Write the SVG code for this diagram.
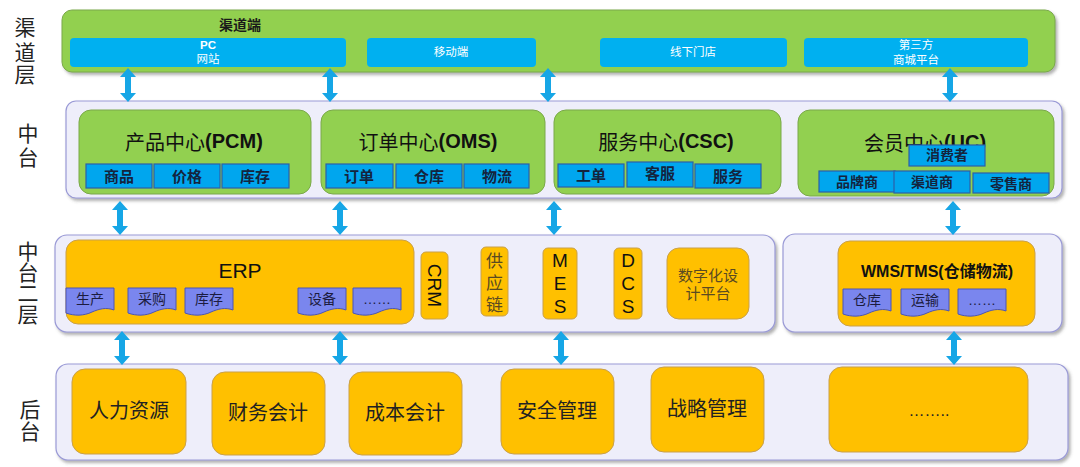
<svg xmlns="http://www.w3.org/2000/svg" xmlns:xlink="http://www.w3.org/1999/xlink" width="1080" height="467" viewBox="0 0 1080 467">
<defs>
  <filter id="sh" x="-5%" y="-10%" width="110%" height="125%">
    <feDropShadow dx="2" dy="2.5" stdDeviation="1.5" flood-color="#555" flood-opacity="0.45"/>
  </filter>
  <path id="dbl" d="M0,0 L8,9 L3,9 L3,25 L8,25 L0,34 L-8,25 L-3,25 L-3,9 L-8,9 Z"/>
  <path id="doc" d="M0,0 H48 V22 C40,19 33,21 26,24 C18,28 8,28 0,25 Z"/>
</defs>
<style>
  text { font-family: "Liberation Sans", "Noto Sans CJK SC", sans-serif; text-anchor: middle; dominant-baseline: central; }
  .side { font-size: 21px; fill: #222; }
  .outer { fill: #eeeefa; stroke: #9a9ad6; stroke-width: 1.2; }
  .green { fill: #92d050; stroke: #7aa84a; stroke-width: 1; }
  .chan { fill: #00b0f0; }
  .chant { fill: #fff; font-size: 11.5px; }
  .sub { fill: #00a6ee; stroke: #2c5fa8; stroke-width: 1.2; }
  .subt { fill: #14243e; font-size: 15px; font-weight: bold; }
  .title { fill: #111; font-size: 20px; }
  .orange { fill: #ffc000; stroke: #c9a04a; stroke-width: 1; }
  .doc { fill: #7a86ee; stroke: #4b55b5; stroke-width: 1; }
  .doct { fill: #1c1c40; font-size: 14px; }
  .arrow { fill: #16a6e6; }
  .back { fill: #222; font-size: 20px; }
  .brown { fill: #5a4a22; }
</style>

<!-- side labels -->
<g id="labels">
  <text class="side" x="25" y="27">渠</text>
  <text class="side" x="25" y="52">道</text>
  <text class="side" x="25" y="74">层</text>
  <text class="side" x="28" y="133">中</text>
  <text class="side" x="28" y="157">台</text>
  <text class="side" x="28" y="251">中</text>
  <text class="side" x="28" y="272">台</text>
  <text class="side" x="28" y="293">二</text>
  <text class="side" x="28" y="314">层</text>
  <text class="side" x="30" y="409">后</text>
  <text class="side" x="30" y="431">台</text>
</g>

<!-- channel layer -->
<g id="channel">
  <rect class="green" x="62" y="10" width="993" height="62" rx="10" filter="url(#sh)"/>
  <text x="240" y="25" style="font-size:14px;font-weight:bold;fill:#1a1a1a">渠道端</text>
  <g id="ch-pc">
    <rect class="chan" x="70" y="38" width="276" height="29" rx="4"/>
    <text class="chant" x="208" y="45" style="font-weight:bold">PC</text>
    <text class="chant" x="208" y="59">网站</text>
  </g>
  <g id="ch-mobile">
    <rect class="chan" x="367" y="38" width="169" height="29" rx="4"/>
    <text class="chant" x="451" y="52">移动端</text>
  </g>
  <g id="ch-offline">
    <rect class="chan" x="600" y="38" width="187" height="29" rx="4"/>
    <text class="chant" x="693" y="52">线下门店</text>
  </g>
  <g id="ch-third">
    <rect class="chan" x="804" y="38" width="224" height="29" rx="4"/>
    <text class="chant" x="916" y="45">第三方</text>
    <text class="chant" x="916" y="60">商城平台</text>
  </g>
</g>

<!-- middle platform -->
<g id="middle">
  <rect class="outer" x="66" y="101" width="996" height="97" rx="10" filter="url(#sh)"/>
  <g id="pcm">
    <rect class="green" x="79" y="110" width="232" height="84" rx="12"/>
    <text class="title" x="194" y="141"><tspan font-family="Noto Sans CJK SC">产品中心</tspan><tspan font-weight="bold">(PCM)</tspan></text>
    <rect class="sub" x="86" y="164" width="66" height="24"/>
    <text class="subt" x="119" y="176">商品</text>
    <rect class="sub" x="154" y="164" width="66" height="24"/>
    <text class="subt" x="187" y="176">价格</text>
    <rect class="sub" x="222" y="164" width="67" height="24"/>
    <text class="subt" x="255" y="176">库存</text>
  </g>
  <g id="oms">
    <rect class="green" x="321" y="110" width="224" height="84" rx="12"/>
    <text class="title" x="428" y="141"><tspan font-family="Noto Sans CJK SC">订单中心</tspan><tspan font-weight="bold">(OMS)</tspan></text>
    <rect class="sub" x="326" y="164" width="67" height="24"/>
    <text class="subt" x="359" y="176">订单</text>
    <rect class="sub" x="396" y="164" width="66" height="24"/>
    <text class="subt" x="429" y="176">仓库</text>
    <rect class="sub" x="464" y="164" width="65" height="24"/>
    <text class="subt" x="497" y="176">物流</text>
  </g>
  <g id="csc">
    <rect class="green" x="554" y="110" width="227" height="84" rx="12"/>
    <text class="title" x="666" y="141"><tspan font-family="Noto Sans CJK SC">服务中心</tspan><tspan font-weight="bold">(CSC)</tspan></text>
    <rect class="sub" x="558" y="164" width="66" height="23"/>
    <text class="subt" x="591" y="175">工单</text>
    <rect class="sub" x="627" y="162" width="66" height="25"/>
    <text class="subt" x="660" y="173">客服</text>
    <rect class="sub" x="695" y="164" width="66" height="24"/>
    <text class="subt" x="728" y="176">服务</text>
  </g>
  <g id="uc">
    <rect class="green" x="798" y="110" width="256" height="86" rx="12"/>
    <text class="title" x="925" y="142"><tspan font-family="Noto Sans CJK SC">会员中心</tspan><tspan font-weight="bold">(UC)</tspan></text>
    <rect class="sub" x="909" y="145" width="76" height="21"/>
    <text class="subt" x="947" y="155" style="font-size:14px">消费者</text>
    <rect class="sub" x="819" y="171" width="76" height="21"/>
    <text class="subt" x="857" y="182" style="font-size:14px">品牌商</text>
    <rect class="sub" x="894" y="171" width="76" height="22"/>
    <text class="subt" x="932" y="182" style="font-size:14px">渠道商</text>
    <rect class="sub" x="973" y="173" width="76" height="20"/>
    <text class="subt" x="1011" y="184" style="font-size:14px">零售商</text>
  </g>
</g>

<!-- middle platform level 2 -->
<g id="middle2">
  <rect class="outer" x="55" y="235" width="720" height="97" rx="12" filter="url(#sh)"/>
  <rect class="outer" x="783" y="234" width="279" height="98" rx="12" filter="url(#sh)"/>
  <g id="erp">
    <rect class="orange" x="66" y="240" width="348" height="84" rx="12"/>
    <text x="240" y="270" style="font-size:21px;fill:#111">ERP</text>
    <use xlink:href="#doc" class="doc" x="66" y="288"/>
    <text class="doct" x="90" y="299">生产</text>
    <use xlink:href="#doc" class="doc" x="128" y="288"/>
    <text class="doct" x="152" y="299">采购</text>
    <use xlink:href="#doc" class="doc" x="185" y="288"/>
    <text class="doct" x="209" y="299">库存</text>
    <use xlink:href="#doc" class="doc" x="298" y="288"/>
    <text class="doct" x="322" y="299">设备</text>
    <use xlink:href="#doc" class="doc" x="353" y="288"/>
    <text class="doct" x="377" y="299">……</text>
  </g>
  <g id="crm">
    <rect class="orange" x="421" y="252" width="27" height="67" rx="5"/>
    <text x="434.5" y="285.5" transform="rotate(90 434.5 285.5)" style="font-size:19px;fill:#111">CRM</text>
  </g>
  <g id="scm">
    <rect class="orange" x="481" y="247" width="27" height="69" rx="5"/>
    <text class="brown" x="494.5" y="261" style="font-size:17px">供</text>
    <text class="brown" x="494.5" y="283" style="font-size:17px">应</text>
    <text class="brown" x="494.5" y="305" style="font-size:17px">链</text>
  </g>
  <g id="mes">
    <rect class="orange" x="543" y="248" width="34" height="71" rx="5"/>
    <text x="560" y="260" style="font-size:19px;fill:#111">M</text>
    <text x="560" y="283" style="font-size:19px;fill:#111">E</text>
    <text x="560" y="306" style="font-size:19px;fill:#111">S</text>
  </g>
  <g id="dcs">
    <rect class="orange" x="614" y="248" width="28" height="71" rx="5"/>
    <text x="628" y="260" style="font-size:19px;fill:#111">D</text>
    <text x="628" y="283" style="font-size:19px;fill:#111">C</text>
    <text x="628" y="306" style="font-size:19px;fill:#111">S</text>
  </g>
  <g id="design">
    <rect class="orange" x="667" y="248" width="82" height="71" rx="12"/>
    <text class="brown" x="708" y="275" style="font-size:15px">数字化设</text>
    <text class="brown" x="708" y="293" style="font-size:15px">计平台</text>
  </g>
  <g id="wms">
    <rect class="orange" x="838" y="241" width="197" height="85" rx="12"/>
    <text x="937" y="271" style="font-size:16px;font-weight:bold;fill:#111">WMS/TMS(仓储物流)</text>
    <use xlink:href="#doc" class="doc" x="843" y="289"/>
    <text class="doct" x="867" y="300">仓库</text>
    <use xlink:href="#doc" class="doc" x="901" y="289"/>
    <text class="doct" x="925" y="300">运输</text>
    <use xlink:href="#doc" class="doc" x="958" y="289"/>
    <text class="doct" x="982" y="300">……</text>
  </g>
</g>

<!-- back office -->
<g id="backend">
  <rect class="outer" x="56" y="364" width="1012" height="96" rx="12" filter="url(#sh)"/>
  <g id="hr">
    <rect class="orange" x="72" y="369" width="114" height="85" rx="13"/>
    <text class="back" x="129" y="411">人力资源</text>
  </g>
  <g id="finance">
    <rect class="orange" x="212" y="372" width="113" height="83" rx="13"/>
    <text class="back" x="268" y="413">财务会计</text>
  </g>
  <g id="cost">
    <rect class="orange" x="349" y="372" width="113" height="83" rx="13"/>
    <text class="back" x="405" y="413">成本会计</text>
  </g>
  <g id="security">
    <rect class="orange" x="501" y="369" width="113" height="85" rx="13"/>
    <text class="back" x="557" y="411">安全管理</text>
  </g>
  <g id="strategy">
    <rect class="orange" x="651" y="367" width="113" height="85" rx="13"/>
    <text class="back" x="707" y="409">战略管理</text>
  </g>
  <g id="more">
    <rect class="orange" x="829" y="367" width="199" height="85" rx="13"/>
    <text x="929" y="410" style="font-size:16px;fill:#222">……..</text>
  </g>
</g>

<!-- connectors -->
<g id="connectors" class="arrow">
  <use xlink:href="#dbl" x="128" y="68"/>
  <use xlink:href="#dbl" x="330" y="68"/>
  <use xlink:href="#dbl" x="548" y="68"/>
  <use xlink:href="#dbl" x="950" y="68"/>
  <use xlink:href="#dbl" x="120" y="201"/>
  <use xlink:href="#dbl" x="340" y="201"/>
  <use xlink:href="#dbl" x="554" y="201"/>
  <use xlink:href="#dbl" x="953" y="201"/>
  <use xlink:href="#dbl" x="122" y="331"/>
  <use xlink:href="#dbl" x="340" y="331"/>
  <use xlink:href="#dbl" x="561" y="331"/>
  <use xlink:href="#dbl" x="954" y="331"/>
</g>
</svg>
